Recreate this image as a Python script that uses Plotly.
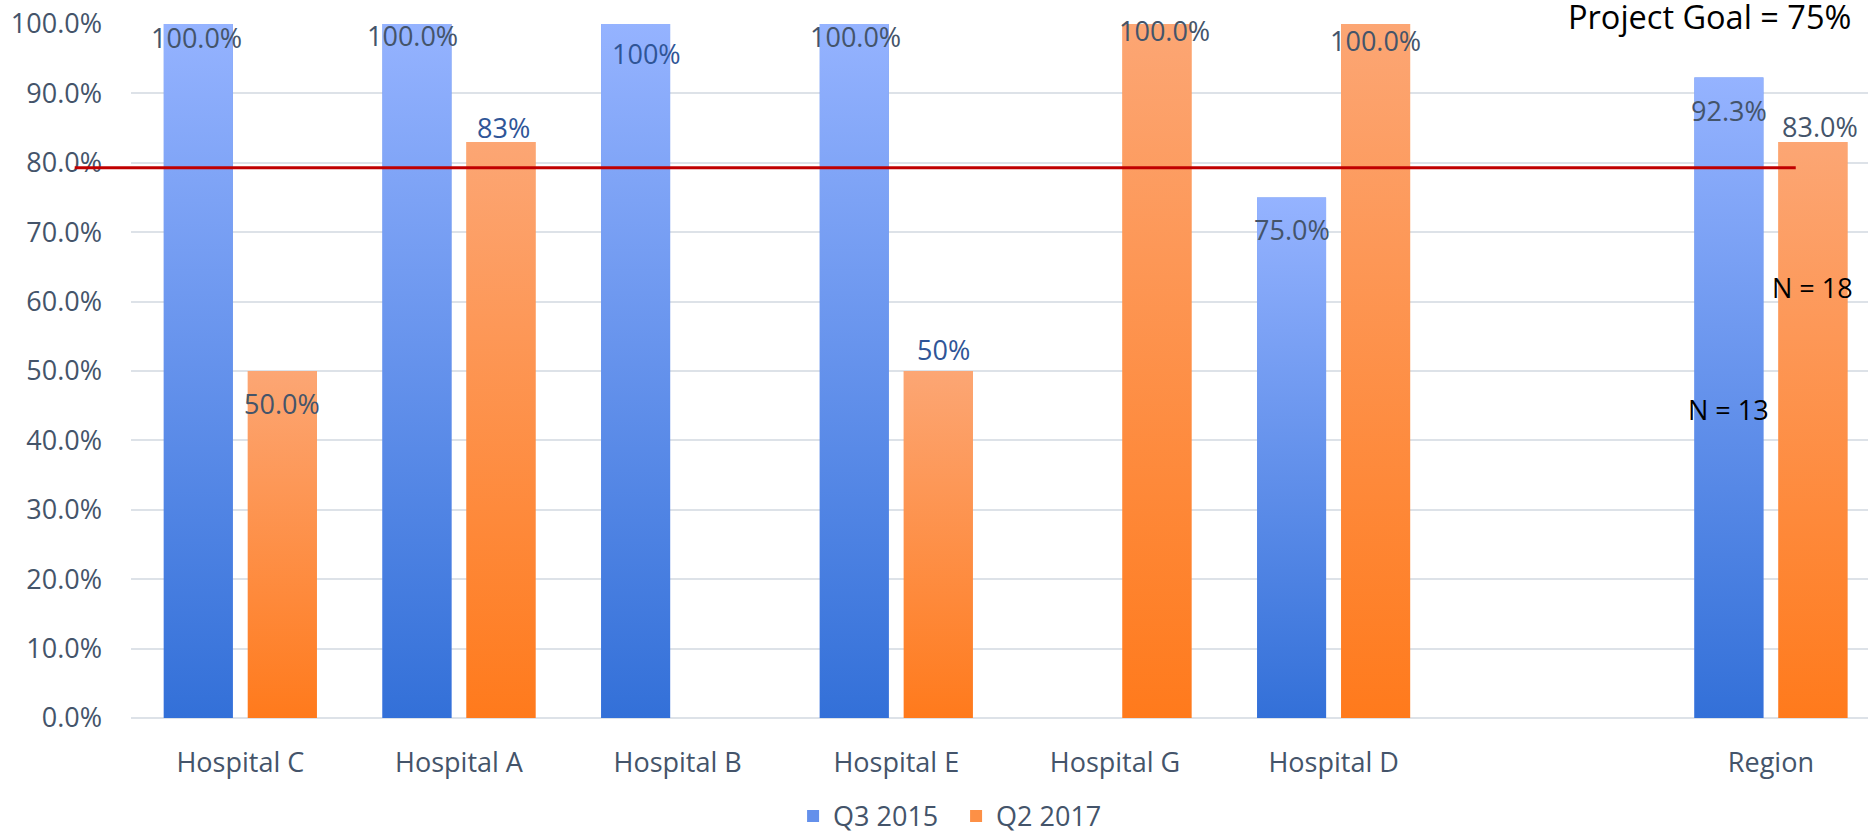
import plotly.graph_objects as go

# ---------------- data ----------------
categories = ["Hospital C", "Hospital A", "Hospital B", "Hospital E", "Hospital G", "Hospital D", "", "Region"]
q3_2015 = [100.0, 100.0, 100.0, 100.0, None, 75.0, None, 92.3]
q2_2017 = [50.0, 83.0, None, 50.0, 100.0, 100.0, None, 83.0]
q3_labels = ["100.0%", "100.0%", "100%", "100.0%", "", "75.0%", "", "92.3%"]
q2_labels = ["50.0%", "83%", "", "50%", "100.0%", "100.0%", "", "83.0%"]
series_names = ["Q3 2015", "Q2 2017"]
goal_value = 79.3
goal_text = "Project Goal = 75%"
n_texts = ["N = 13", "N = 18"]
n_values = [44.5, 62.0]
y_ticks = [0, 10, 20, 30, 40, 50, 60, 70, 80, 90, 100]

# ---------------- styles ----------------
FONT = "Open Sans"
TXT = "#44546A"
BLUE_TXT = "#2F5597"
BAR_W = 0.3156
OFFS = [-0.35, 0.0343]
DARK = ["#3370D8", "#FF7A1C"]
LIGHT = ["#95B3FF", "#FCA674"]
MID = ["#6490EB", "#FD9046"]
# per-label pixel nudges and colours (layout only)
q3_shift = [(-2, -13), (-4, -11.5), (11, -29), (1, -12.5), (0, 0), (0, -31.5), (0, 0), (0, -32.6)]
q2_shift = [(0, -32.5), (3, 14), (0, 0), (5, 22), (8, -6), (0, -16.5), (0, 0), (7.5, 15)]
q3_col = [TXT, TXT, BLUE_TXT, TXT, TXT, TXT, TXT, TXT]
q2_col = [TXT, BLUE_TXT, TXT, BLUE_TXT, TXT, TXT, TXT, TXT]

idx = list(range(len(categories)))
fig = go.Figure()

all_series = [q3_2015, q2_2017]
for s, vals in enumerate(all_series):
    fig.add_trace(go.Bar(
        x=idx, y=vals, name=series_names[s], width=BAR_W, offset=OFFS[s],
        marker=dict(color=MID[s], line=dict(width=0)), showlegend=True,
    ))

# gradient skins over each bar (same geometry as the bars)
for s, vals in enumerate(all_series):
    for i, v in zip(idx, vals):
        if v is None:
            continue
        x0 = i + OFFS[s]
        x1 = x0 + BAR_W
        fig.add_trace(go.Scatter(
            x=[x0, x0, x1, x1, x0], y=[0, v, v, 0, 0], mode="lines",
            fill="toself", line=dict(width=0),
            fillgradient=dict(type="vertical", colorscale=[[0, DARK[s]], [1, LIGHT[s]]]),
            hoverinfo="skip", showlegend=False,
        ))

annotations = []
for vals, labels, shifts, cols, s in [(q3_2015, q3_labels, q3_shift, q3_col, 0),
                                      (q2_2017, q2_labels, q2_shift, q2_col, 1)]:
    for i, (v, t) in enumerate(zip(vals, labels)):
        if v is None or not t:
            continue
        annotations.append(dict(
            x=i + OFFS[s] + BAR_W / 2, y=v, xref="x", yref="y", text=t, showarrow=False,
            xanchor="center", yanchor="middle", xshift=shifts[i][0], yshift=shifts[i][1],
            font=dict(family=FONT, size=27, color=cols[i]),
        ))

region = len(categories) - 1
for s, (t, v) in enumerate(zip(n_texts, n_values)):
    annotations.append(dict(
        x=region + OFFS[s] + BAR_W / 2, y=v, xref="x", yref="y", text=t, showarrow=False,
        xanchor="center", yanchor="middle", font=dict(family=FONT, size=27, color="black"),
    ))

annotations.append(dict(
    x=6.718, y=1.0115, xref="x", yref="paper", text=goal_text, showarrow=False,
    xanchor="center", yanchor="middle", font=dict(family=FONT, size=32.5, color="black"),
))

fig.update_layout(
    width=1868, height=833,
    margin=dict(l=131, r=0, t=24, b=115),
    paper_bgcolor="white", plot_bgcolor="white",
    barmode="overlay",
    font=dict(family=FONT, size=27, color=TXT),
    annotations=annotations,
    shapes=[dict(type="line", xref="paper", yref="paper",
                 x0=-0.0324, x1=0.9584, y0=goal_value / 100, y1=goal_value / 100,
                 line=dict(color="#C00000", width=3), layer="above")],
    legend=dict(orientation="h", xanchor="center", x=0.475, yref="container",
                yanchor="middle", y=0.02,
                font=dict(family=FONT, size=27, color=TXT), bgcolor="rgba(0,0,0,0)",
                itemwidth=30, entrywidth=118, traceorder="normal"),
    xaxis=dict(
        range=[-0.5, 7.444], tickmode="array", tickvals=idx, ticktext=categories,
        showgrid=False, zeroline=False, showline=False, ticks="",
        ticklabelstandoff=26, tickfont=dict(family=FONT, size=27, color=TXT),
        fixedrange=True,
    ),
    yaxis=dict(
        range=[0, 100], tickmode="array", tickvals=y_ticks,
        ticktext=[f"{t:.1f}%" for t in y_ticks],
        showgrid=True, gridcolor="#DDE2E8", gridwidth=2,
        zeroline=True, zerolinecolor="#DDE2E8", zerolinewidth=2,
        showline=False, ticks="", ticklabelstandoff=28,
        tickfont=dict(family=FONT, size=27, color=TXT), fixedrange=True,
    ),
)

fig.write_html("out.html")
